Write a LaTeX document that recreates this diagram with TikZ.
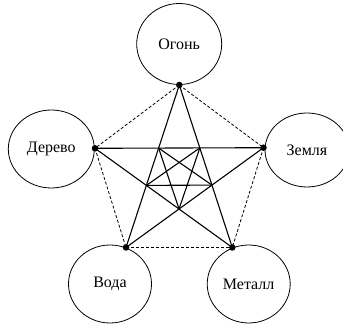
\documentclass[tikz,border=0pt]{standalone}
\usepackage{fontspec}
\setmainfont{Liberation Serif}
\usetikzlibrary{shapes.geometric}
\begin{document}
\begin{tikzpicture}[x=1pt,y=1pt,
  elem/.style={draw, ellipse, line width=0.8pt, inner sep=0pt, font=\fontsize{16}{18}\selectfont},
  dot/.style={circle, fill, inner sep=0pt, minimum size=6.5pt},
  solidline/.style={line width=1.1pt},
  dashline/.style={line width=0.8pt, dash pattern=on 3pt off 2pt}]
\useasboundingbox (0,0) rectangle (343,327);
% elements
\node[elem, minimum width=85pt, minimum height=81pt] (fire) at (179.2,283) {Огонь};
\node[elem, minimum width=86pt, minimum height=78pt] (wood) at (51.3,178) {Дерево};
\node[elem, minimum width=84pt, minimum height=74pt] (earth) at (307,177) {Земля};
\node[elem, minimum width=83pt, minimum height=78pt] (water) at (110,43) {Вода};
\node[elem, minimum width=83pt, minimum height=78pt] (metal) at (248.7,43) {Металл};
% vertex points
\coordinate (cT) at (179.3,242);
\coordinate (cL) at (95,178.7);
\coordinate (cR) at (263.5,179.3);
\coordinate (cBL) at (126,79.5);
\coordinate (cBR) at (232.3,79.5);
% inner pentagon
\coordinate (iA) at (intersection of cT--cBL and cL--cR);
\coordinate (iB) at (intersection of cT--cBR and cL--cR);
\coordinate (iC) at (intersection of cT--cBL and cL--cBR);
\coordinate (iD) at (intersection of cT--cBR and cR--cBL);
\coordinate (iE) at (intersection of cL--cBR and cR--cBL);
% outer pentagon (dashed)
\draw[dashline] (cT) -- (cL);
\draw[dashline] (cT) -- (cR);
\draw[dashline] (cL) -- (cBL);
\draw[dashline] (cR) -- (cBR);
\draw[dashline] (cBL) -- (cBR);
% outer star
\draw[solidline] (cT) -- (cBL);
\draw[solidline] (cT) -- (cBR);
\draw[solidline] (cL) -- (cR);
\draw[solidline] (cL) -- (cBR);
\draw[solidline] (cR) -- (cBL);
% inner star
\draw[solidline] (iA) -- (iE);
\draw[solidline] (iE) -- (iB);
\draw[solidline] (iB) -- (iC);
\draw[solidline] (iC) -- (iD);
\draw[solidline] (iD) -- (iA);
% dots
\node[dot] (pT) at (cT) {};
\node[dot] (pL) at (cL) {};
\node[dot] (pR) at (cR) {};
\node[dot] (pBL) at (cBL) {};
\node[dot] (pBR) at (cBR) {};
\end{tikzpicture}
\end{document}
